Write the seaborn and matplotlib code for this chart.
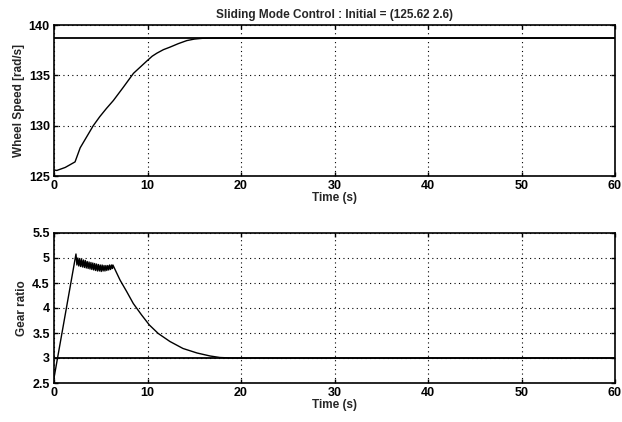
import numpy as np
import pandas as pd
import seaborn as sns
import matplotlib
matplotlib.use("Agg")
import matplotlib.pyplot as plt

# ---- data ----
speed_t = [0, 0.3, 1.2, 2.25, 2.8, 3.5, 4.2, 4.9, 5.6, 6.35, 7.4, 8.5, 9.2, 9.9, 10.5, 11.0, 11.7,
           12.4, 13.3, 14.2, 15.0, 15.9, 17.0, 20, 30, 40, 50, 60]
speed_v = [125.6, 125.55, 125.85, 126.4, 127.8, 128.9, 130.0, 130.9, 131.7, 132.5, 133.8, 135.2,
           135.8, 136.4, 136.9, 137.2, 137.55, 137.8, 138.15, 138.45, 138.6, 138.68, 138.7,
           138.7, 138.7, 138.7, 138.7, 138.7]
speed_ref = 138.7

gear_t = [0, 2.35, 2.45, 2.55, 2.65, 2.75, 2.85, 2.95, 3.05, 3.15, 3.25, 3.35, 3.45, 3.55, 3.65,
          3.75, 3.85, 3.95, 4.05, 4.15, 4.25, 4.35, 4.45, 4.55, 4.65, 4.75, 4.85, 4.95, 5.05,
          5.15, 5.25, 5.35, 5.45, 5.55, 5.65, 5.75, 5.85, 5.95, 6.05, 6.15, 6.25, 6.3,
          7.06, 7.77, 8.48, 9.37, 10.2, 11.15, 12.4, 13.8, 15.3, 16.7, 17.75, 19.0,
          20, 30, 40, 50, 60]
gear_v = [2.6, 5.08, 4.86, 5.0, 4.84, 4.99, 4.83, 4.97, 4.82, 4.96, 4.81, 4.95, 4.80, 4.93, 4.79,
          4.92, 4.78, 4.91, 4.77, 4.90, 4.76, 4.89, 4.75, 4.88, 4.74, 4.87, 4.74, 4.86, 4.73,
          4.86, 4.74, 4.85, 4.74, 4.85, 4.75, 4.85, 4.76, 4.86, 4.77, 4.86, 4.79, 4.86,
          4.56, 4.33, 4.09, 3.86, 3.66, 3.49, 3.33, 3.19, 3.1, 3.04, 3.01, 3.0,
          3.0, 3.0, 3.0, 3.0, 3.0]
gear_ref = 3.0

x_ticks = [0, 10, 20, 30, 40, 50, 60]
speed_ticks = [125, 130, 135, 140]
gear_ticks = [2.5, 3, 3.5, 4, 4.5, 5, 5.5]

title = "Sliding Mode Control : Initial = (125.62 2.6)"

sns.set_theme(style="white")
plt.rcParams['font.family'] = ['Liberation Sans', 'DejaVu Sans']
plt.rcParams['font.weight'] = 'bold'

fig = plt.figure(figsize=(6.22, 4.22), dpi=100)
ax1 = fig.add_axes([54/622, 1-176/422, (615-54)/622, (176-25)/422])
ax2 = fig.add_axes([54/622, 1-383/422, (615-54)/622, (383-233)/422])

df1 = pd.DataFrame({"t": speed_t, "v": speed_v})
df2 = pd.DataFrame({"t": gear_t, "v": gear_v})

sns.lineplot(data=df1, x="t", y="v", ax=ax1, color="black", lw=1.0, sort=False)
ax1.axhline(speed_ref, color="black", lw=1.3)
sns.lineplot(data=df2, x="t", y="v", ax=ax2, color="black", lw=1.0, sort=False)
ax2.axhline(gear_ref, color="black", lw=1.3)

for ax, yt, lim in [(ax1, speed_ticks, (125, 140)), (ax2, gear_ticks, (2.5, 5.5))]:
    ax.set_xlim(0, 60)
    ax.set_ylim(*lim)
    ax.set_xticks(x_ticks)
    ax.set_yticks(yt)
    ax.set_yticklabels([f"{v:g}" for v in yt])
    ax.grid(True, color="black", linestyle=(0, (1, 3)), lw=0.8)
    for s in ax.spines.values():
        s.set_color("black")
        s.set_linewidth(1.2)
        s.set_visible(True)
    ax.tick_params(direction="in", length=3, width=1, colors="black",
                   labelsize=9, pad=3, top=True, right=True, left=True, bottom=True)
    for lab in ax.get_xticklabels() + ax.get_yticklabels():
        lab.set_fontweight("bold")
    ax.set_xlabel("Time (s)", fontsize=8.5, fontweight="bold", labelpad=0)

ax1.set_ylabel("Wheel Speed [rad/s]", fontsize=8.5, fontweight="bold", labelpad=3)
ax2.set_ylabel("Gear ratio", fontsize=8.5, fontweight="bold", labelpad=3)
ax1.set_title(title, fontsize=8.5, fontweight="bold", pad=5)

fig.savefig("out.png", dpi=100, facecolor="white")
